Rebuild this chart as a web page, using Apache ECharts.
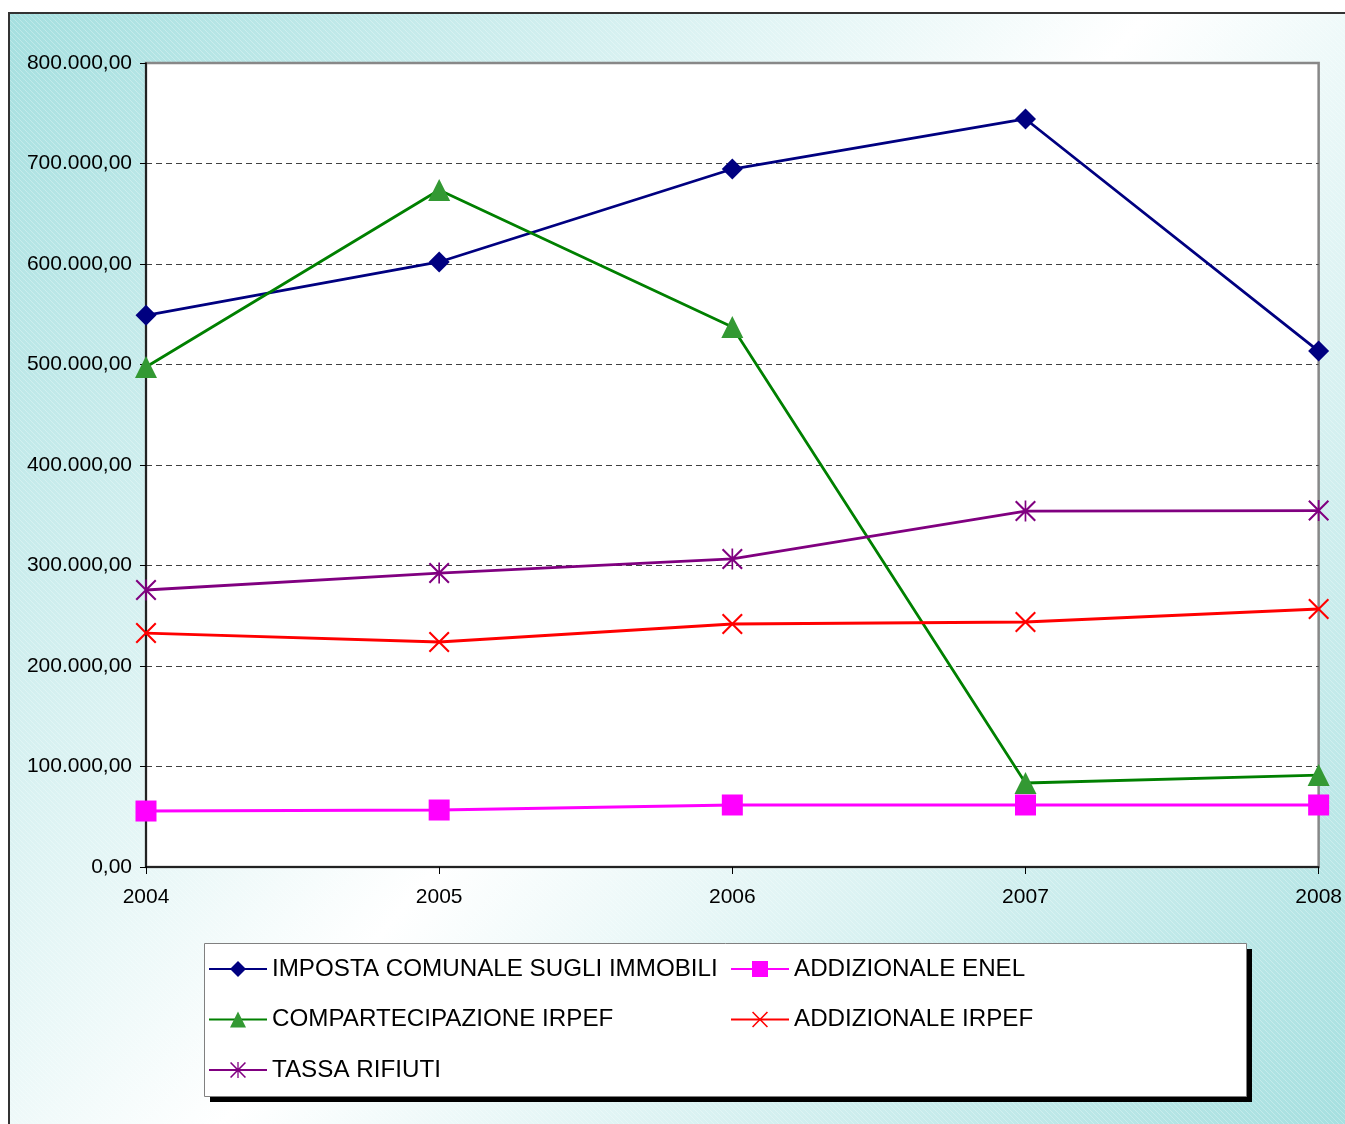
<!DOCTYPE html>
<html>
<head>
<meta charset="utf-8">
<script src="https://cdn.jsdelivr.net/npm/echarts@6/dist/echarts.min.js"></script>
<style>
html,body{margin:0;padding:0;background:#fff;}
#chart{width:1345px;height:1124px;}
</style>
</head>
<body>
<div id="chart"></div>
<script>
const years = ['2004', '2005', '2006', '2007', '2008'];
const seriesNames = ['IMPOSTA COMUNALE SUGLI IMMOBILI', 'ADDIZIONALE ENEL', 'COMPARTECIPAZIONE IRPEF', 'ADDIZIONALE IRPEF', 'TASSA RIFIUTI'];
const ici = [549000, 602000, 694500, 744300, 513400];
const addEnel = [55700, 56700, 61700, 61700, 61700];
const compIrpef = [497500, 673600, 537300, 83600, 91500];
const addIrpef = [232800, 223900, 241800, 243800, 256700];
const tassaRifiuti = [275600, 292500, 306500, 354200, 354700];
const yMin = 0, yMax = 800000, yStep = 100000;

const FONT = 'Arial, "Liberation Sans", sans-serif';
const X_PATH = 'path://M0,7L7,0L50,43L93,0L100,7L57,50L100,93L93,100L50,57L7,100L0,93L43,50Z';
const STAR_PATH = 'path://M0,7L7,0L50,43L93,0L100,7L57,50L100,93L93,100L50,57L7,100L0,93L43,50ZM46,0L54,0L54,100L46,100Z';

function fmt(v) {
  const s = Math.round(v).toString().replace(/\B(?=(\d{3})+(?!\d))/g, '.');
  return s + ',00';
}

// hatch pattern for background
const pc = document.createElement('canvas');
pc.width = 5; pc.height = 5;
const pctx = pc.getContext('2d');
pctx.strokeStyle = 'rgba(255,255,255,0.35)';
pctx.lineWidth = 0.8;
pctx.beginPath();
pctx.moveTo(-1, -1); pctx.lineTo(6, 6);
pctx.stroke();

const chart = echarts.init(document.getElementById('chart'), null, {renderer: 'canvas'});

function lineSeries(name, data, color, symbol, markerColor, size) {
  return {
    name: name,
    type: 'line',
    data: data,
    symbol: symbol,
    symbolSize: size,
    showAllSymbol: true,
    lineStyle: {color: color, width: 2.8},
    itemStyle: {color: markerColor || color},
    emphasis: {disabled: true},
    animation: false
  };
}

const legendCommon = {
  orient: 'vertical', top: 957, itemWidth: 58, itemHeight: 20, itemGap: 26.5, padding: 0,
  textStyle: {fontSize: 24.2, fontFamily: FONT, color: '#000'}, selectedMode: false, z: 4
};

const option = {
  animation: false,
  graphic: [
    {
      type: 'rect', z: -100,
      shape: {x: 9, y: 13, width: 1345, height: 1120},
      style: {
        fill: new echarts.graphic.LinearGradient(0, 0, 1, 1, [
          {offset: 0, color: '#a4dfdf'},
          {offset: 0.5, color: '#ffffff'},
          {offset: 1, color: '#a4dfdf'}
        ]),
        stroke: '#333333', lineWidth: 2
      }
    },
    {
      type: 'rect', z: -99, silent: true,
      shape: {x: 10, y: 14, width: 1340, height: 1115},
      style: {fill: {image: pc, repeat: 'repeat'}}
    },
    {
      type: 'rect', z: 2,
      shape: {x: 210, y: 949, width: 1042, height: 153},
      style: {fill: '#000000'}
    },
    {
      type: 'rect', z: 3,
      shape: {x: 204.5, y: 943.5, width: 1042, height: 153},
      style: {fill: '#ffffff', stroke: '#808080', lineWidth: 1}
    }
  ],
  grid: {
    left: 146, top: 63, right: 24, bottom: 257,
    show: true, backgroundColor: '#ffffff', borderColor: '#888888', borderWidth: 2.5
  },
  legend: [
    Object.assign({data: [seriesNames[0], seriesNames[2], seriesNames[4]], left: 208}, legendCommon),
    Object.assign({data: [seriesNames[1], seriesNames[3]], left: 730}, legendCommon)
  ],
  xAxis: {
    type: 'category', data: years, boundaryGap: false,
    axisLine: {lineStyle: {color: '#000', width: 1.5}},
    axisTick: {show: true, length: 7, lineStyle: {color: '#000', width: 1}},
    axisLabel: {fontSize: 21, fontFamily: FONT, color: '#000', margin: 20},
    splitLine: {show: false}
  },
  yAxis: {
    type: 'value', min: yMin, max: yMax, interval: yStep,
    axisLine: {show: true, lineStyle: {color: '#000', width: 1.5}},
    axisTick: {show: true, length: 6, lineStyle: {color: '#000', width: 1}},
    axisLabel: {fontSize: 21, fontFamily: FONT, color: '#000', margin: 14, formatter: fmt},
    splitLine: {show: true, showMinLine: false, showMaxLine: false, lineStyle: {color: '#404040', type: [6, 4], width: 1}}
  },
  series: [
    lineSeries(seriesNames[0], ici, '#000080', 'diamond', '#000080', 21),
    lineSeries(seriesNames[1], addEnel, '#ff00ff', 'rect', '#ff00ff', 21),
    lineSeries(seriesNames[2], compIrpef, '#008000', 'triangle', '#339933', 22),
    lineSeries(seriesNames[3], addIrpef, '#ff0000', X_PATH, '#ff0000', 21),
    lineSeries(seriesNames[4], tassaRifiuti, '#800080', STAR_PATH, '#800080', 21)
  ]
};
chart.setOption(option);
</script>
</body>
</html>
